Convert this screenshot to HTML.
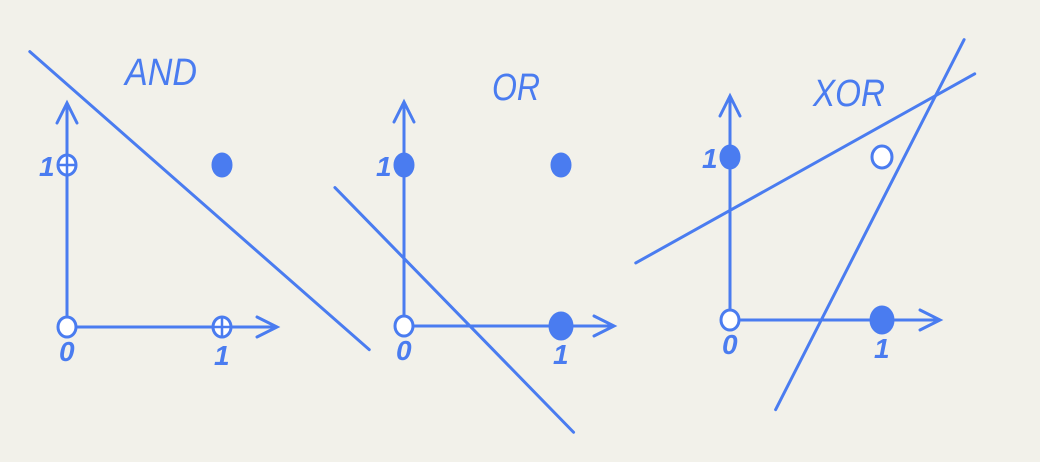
<!DOCTYPE html>
<html><head><meta charset="utf-8"><style>
html,body{margin:0;padding:0;background:#f2f1ea;}
svg{display:block}
text{font-family:"Liberation Sans",sans-serif;font-style:italic;fill:#4a7cf0}
</style></head><body>
<svg id="c" width="1040" height="462" viewBox="0 0 1040 462" xmlns="http://www.w3.org/2000/svg">
<rect width="1040" height="462" fill="#f2f1ea"/>
</svg>
<script>
const panelNames = ["AND","OR","XOR"];
const origins = [[67,327],[404,326],[730,320]];
const unitX = [155,157,152];
const unitY = [162,161,163];
// point values: [x, y, filled(1) or open(0)]
const andPoints = [[0,0,0],[1,0,0],[0,1,0],[1,1,1]];
const orPoints = [[0,0,0],[1,0,1],[0,1,1],[1,1,1]];
const xorPoints = [[0,0,0],[1,0,1],[0,1,1],[1,1,0]];
// separating lines in data units [x1,y1,x2,y2]
const andLines = [[-0.24,1.70,1.95,-0.14]];
const orLines = [[-0.44,0.86,1.08,-0.66]];
const xorLines = [[-0.62,0.35,1.61,1.51],[1.54,1.72,0.30,-0.55]];
const titles = [[125,85],[492,100],[813,106]];
const C = "#4a7cf0";
const svg = document.getElementById('c');
const NS = "http://www.w3.org/2000/svg";
function mk(tag, attrs){const e=document.createElementNS(NS,tag);for(const k in attrs)e.setAttribute(k,attrs[k]);svg.appendChild(e);return e;}
const allPts=[andPoints,orPoints,xorPoints], allLines=[andLines,orLines,xorLines];
panelNames.forEach((name,i)=>{
  const [ox,oy]=origins[i];
  const sx=v=>ox+v*unitX[i], sy=v=>oy-v*unitY[i];
  const ax=mk('path',{d:`M${ox} ${oy}H${ox+210}M${ox+190} ${oy-10}L${ox+210} ${oy}L${ox+190} ${oy+10}`,stroke:C,'stroke-width':3,fill:'none','stroke-linecap':'round'});
  
  
  const ay=mk('path',{d:`M${ox} ${oy}V${oy-224}M${ox-10} ${oy-204}L${ox} ${oy-224}L${ox+10} ${oy-204}`,stroke:C,'stroke-width':3,fill:'none','stroke-linecap':'round'});
  
  
  allLines[i].forEach(l=>{
    const ln=mk('line',{x1:sx(l[0]),y1:sy(l[1]),x2:sx(l[2]),y2:sy(l[3]),stroke:C,'stroke-width':3,'stroke-linecap':'round'});
    
    
  });
  allPts[i].forEach(p=>{
    const filled=p[2]===1;
    const r = filled?(p[0]===1&&p[1]===0?12:10):10;
    const el=mk('ellipse',{cx:sx(p[0]),cy:sy(p[1]),rx:filled?r-1:(name==="XOR"&&p[0]===1?10:9),ry:filled?r+1:(name==="XOR"&&p[0]===1?11:10),fill:filled?C:'#ffffff',stroke:C,'stroke-width':3});
    
    
    if(!filled && name==="AND" && !(p[0]===0&&p[1]===0)){
      mk('path',{d:`M${sx(p[0])-9} ${sy(p[1])}H${sx(p[0])+9}M${sx(p[0])} ${sy(p[1])-10}V${sy(p[1])+10}`,stroke:C,'stroke-width':2.5});
    }
  });
  const labels=[["0",ox-8,oy+34],["1",sx(1)-8,oy+38],["1",ox-28,sy(1)+11]];
  labels.forEach(t=>{
    const tx=mk('text',{x:t[1],y:t[2],'font-size':28,'font-weight':'bold'});
    tx.textContent=t[0];
    
    
  });
  const tt=mk('text',{x:titles[i][0],y:titles[i][1],'font-size':38,textLength:name.length*24,'lengthAdjust':'spacingAndGlyphs'});
  tt.textContent=name;
  
  
});
</script>
</body></html>
